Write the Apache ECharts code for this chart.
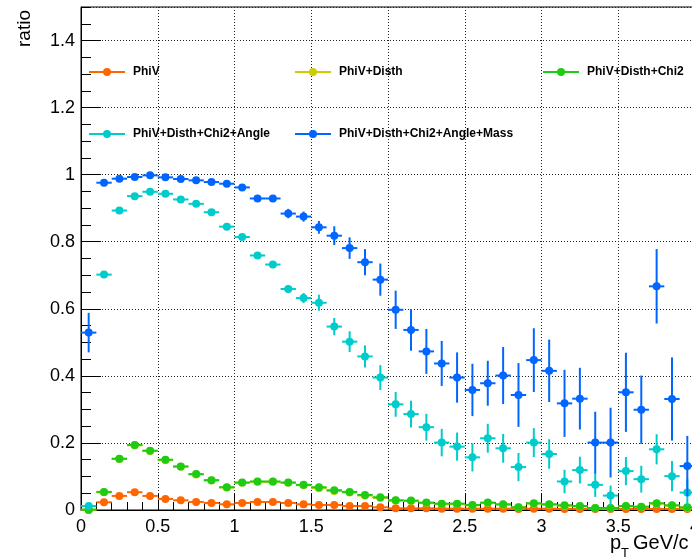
<!DOCTYPE html>
<html>
<head>
<meta charset="utf-8">
<script src="https://cdn.jsdelivr.net/npm/echarts@6/dist/echarts.min.js"></script>
<style>
  html, body { margin: 0; padding: 0; background: #fff; }
  #chart { width: 692px; height: 560px; }
</style>
</head>
<body>
<div id="chart"></div>
<script>
// pT bin centres (GeV/c), bins of width 0.1 from 0 to 4
const binCenters = [
  0.05, 0.15, 0.25, 0.35, 0.45, 0.55, 0.65, 0.75, 0.85, 0.95,
  1.05, 1.15, 1.25, 1.35, 1.45, 1.55, 1.65, 1.75, 1.85, 1.95,
  2.05, 2.15, 2.25, 2.35, 2.45, 2.55, 2.65, 2.75, 2.85, 2.95,
  3.05, 3.15, 3.25, 3.35, 3.45, 3.55, 3.65, 3.75, 3.85, 3.95
];
const binHalfWidth = 0.05;

const seriesNames = [
  'PhiV',
  'PhiV+Disth',
  'PhiV+Disth+Chi2',
  'PhiV+Disth+Chi2+Angle',
  'PhiV+Disth+Chi2+Angle+Mass'
];

// ratio per bin and its uncertainty, one pair of arrays per selection
const phiV = [
  0.000, 0.023, 0.042, 0.053, 0.042, 0.033, 0.029, 0.024, 0.021, 0.017,
  0.021, 0.024, 0.024, 0.021, 0.017, 0.015, 0.015, 0.012, 0.012, 0.008,
  0.005, 0.005, 0.005, 0.004, 0.004, 0.004, 0.004, 0.004, 0.003, 0.004,
  0.004, 0.003, 0.003, 0.003, 0.003, 0.003, 0.003, 0.003, 0.003, 0.003
];
const phiVErr = [
  0.002, 0.003, 0.003, 0.003, 0.003, 0.003, 0.003, 0.003, 0.003, 0.003,
  0.003, 0.003, 0.003, 0.003, 0.003, 0.003, 0.003, 0.003, 0.003, 0.003,
  0.003, 0.003, 0.003, 0.003, 0.003, 0.003, 0.003, 0.003, 0.003, 0.003,
  0.003, 0.003, 0.003, 0.003, 0.003, 0.003, 0.003, 0.003, 0.003, 0.003
];

const disth = [
  0.001, 0.053, 0.152, 0.193, 0.176, 0.149, 0.129, 0.106, 0.088, 0.067,
  0.081, 0.084, 0.084, 0.081, 0.074, 0.065, 0.057, 0.052, 0.043, 0.036,
  0.028, 0.027, 0.021, 0.018, 0.018, 0.014, 0.021, 0.016, 0.008, 0.019,
  0.016, 0.013, 0.011, 0.006, 0.005, 0.011, 0.009, 0.019, 0.013, 0.007
];
const disthErr = [
  0.002, 0.004, 0.005, 0.005, 0.005, 0.005, 0.005, 0.004, 0.004, 0.004,
  0.004, 0.004, 0.004, 0.004, 0.004, 0.004, 0.004, 0.004, 0.004, 0.004,
  0.004, 0.004, 0.004, 0.004, 0.004, 0.004, 0.004, 0.004, 0.004, 0.004,
  0.004, 0.004, 0.004, 0.004, 0.004, 0.004, 0.004, 0.004, 0.004, 0.004
];

const chi2 = [
  0.001, 0.054, 0.153, 0.194, 0.177, 0.150, 0.130, 0.107, 0.089, 0.068,
  0.082, 0.085, 0.085, 0.082, 0.075, 0.068, 0.059, 0.054, 0.045, 0.038,
  0.029, 0.028, 0.022, 0.019, 0.019, 0.015, 0.022, 0.017, 0.008, 0.020,
  0.017, 0.014, 0.012, 0.006, 0.006, 0.012, 0.010, 0.020, 0.014, 0.008
];
const chi2Err = [
  0.002, 0.004, 0.005, 0.005, 0.005, 0.005, 0.005, 0.004, 0.004, 0.004,
  0.004, 0.004, 0.004, 0.004, 0.004, 0.004, 0.004, 0.004, 0.004, 0.004,
  0.004, 0.004, 0.004, 0.004, 0.004, 0.004, 0.004, 0.004, 0.004, 0.004,
  0.004, 0.004, 0.004, 0.004, 0.004, 0.004, 0.004, 0.004, 0.004, 0.004
];

const angle = [
  0.012, 0.702, 0.893, 0.936, 0.949, 0.943, 0.926, 0.913, 0.888, 0.845,
  0.814, 0.759, 0.732, 0.659, 0.632, 0.618, 0.547, 0.502, 0.458, 0.395,
  0.315, 0.286, 0.247, 0.201, 0.189, 0.157, 0.214, 0.184, 0.128, 0.201,
  0.167, 0.085, 0.119, 0.075, 0.043, 0.116, 0.092, 0.181, 0.101, 0.052
];
const angleErr = [
  0.005, 0.004, 0.004, 0.004, 0.004, 0.004, 0.004, 0.004, 0.004, 0.005,
  0.006, 0.007, 0.008, 0.012, 0.015, 0.024, 0.026, 0.031, 0.033, 0.037,
  0.037, 0.040, 0.040, 0.041, 0.042, 0.042, 0.043, 0.043, 0.042, 0.043,
  0.044, 0.035, 0.040, 0.036, 0.030, 0.042, 0.040, 0.045, 0.045, 0.040
];

const mass = [
  0.529, 0.976, 0.988, 0.993, 0.998, 0.992, 0.987, 0.983, 0.978, 0.973,
  0.962, 0.929, 0.929, 0.884, 0.875, 0.843, 0.818, 0.781, 0.739, 0.687,
  0.597, 0.537, 0.473, 0.437, 0.395, 0.358, 0.378, 0.401, 0.343, 0.447,
  0.415, 0.318, 0.332, 0.201, 0.201, 0.351, 0.299, 0.667, 0.331, 0.131
];
const massErr = [
  0.059, 0.006, 0.004, 0.004, 0.004, 0.004, 0.004, 0.005, 0.005, 0.006,
  0.007, 0.009, 0.010, 0.014, 0.015, 0.019, 0.028, 0.032, 0.039, 0.048,
  0.057, 0.062, 0.067, 0.067, 0.075, 0.078, 0.067, 0.085, 0.095, 0.095,
  0.093, 0.100, 0.092, 0.092, 0.104, 0.118, 0.102, 0.111, 0.124, 0.090
];

const seriesValues = [phiV, disth, chi2, angle, mass];
const seriesErrors = [phiVErr, disthErr, chi2Err, angleErr, massErr];
const seriesColors = ['#ff6600', '#cccc00', '#1ecc14', '#00cccc', '#0066ff'];

const FONT = '"Liberation Sans", Arial, Helvetica, sans-serif';

const chart = echarts.init(document.getElementById('chart'), null, { renderer: 'canvas' });

const series = [];
seriesNames.forEach((name, k) => {
  const color = seriesColors[k];
  const vals = seriesValues[k];
  const errs = seriesErrors[k];
  // bin-width horizontal bars and vertical error bars
  series.push({
    type: 'custom',
    name: name + ' errors',
    xAxisIndex: 0,
    yAxisIndex: 0,
    silent: true,
    animation: false,
    z: 2 + 2 * k,
    data: binCenters.map((x, i) => [x, vals[i], errs[i]]),
    encode: { x: 0, y: 1 },
    renderItem: function (params, api) {
      const x = api.value(0), y = api.value(1), e = api.value(2);
      const pL = api.coord([x - binHalfWidth, y]);
      const pR = api.coord([x + binHalfWidth, y]);
      const pT = api.coord([x, y + e]);
      const pB = api.coord([x, y - e]);
      const style = { stroke: color, lineWidth: 2 };
      return {
        type: 'group',
        children: [
          { type: 'line', shape: { x1: pL[0], y1: pL[1], x2: pR[0], y2: pR[1] }, style: style },
          { type: 'line', shape: { x1: pT[0], y1: pT[1], x2: pB[0], y2: pB[1] }, style: style }
        ]
      };
    }
  });
  // markers
  series.push({
    type: 'line',
    name: name,
    xAxisIndex: 0,
    yAxisIndex: 0,
    silent: true,
    animation: false,
    z: 3 + 2 * k,
    symbol: 'circle',
    symbolSize: 8,
    showSymbol: true,
    showAllSymbol: true,
    clip: false,
    lineStyle: { opacity: 0, width: 2, color: color },
    itemStyle: { color: color },
    data: binCenters.map((x, i) => [x, vals[i]])
  });
});

const legendBase = {
  orient: 'horizontal',
  padding: 0,
  itemWidth: 36,
  itemHeight: 10,
  selectedMode: false,
  lineStyle: { width: 2, opacity: 1 },
  textStyle: { fontFamily: FONT, fontWeight: 'bold', fontSize: 12, color: '#000', padding: [0, 0, 0, 3] }
};
const legendSlots = [
  { left: 88, top: 66 },
  { left: 294, top: 66 },
  { left: 542, top: 66 },
  { left: 88, top: 128 },
  { left: 294, top: 128 }
];

const option = {
  backgroundColor: '#fff',
  animation: false,
  grid: {
    left: 81, top: 7, width: 614, height: 503,
    outerBoundsMode: 'none',
    containLabel: false,
    show: true, borderColor: '#000', borderWidth: 1, backgroundColor: 'transparent'
  },
  legend: seriesNames.map((name, k) => Object.assign({}, legendBase, legendSlots[k], { data: [name] })),
  xAxis: {
    type: 'value',
    min: 0, max: 4, interval: 0.5,
    axisLine: { lineStyle: { color: '#000', width: 1 } },
    axisTick: { inside: true, length: 16, lineStyle: { color: '#000', width: 1 } },
    minorTick: { show: true, splitNumber: 5, length: 8, lineStyle: { color: '#000', width: 1 } },
    splitLine: { show: true, lineStyle: { color: '#222', width: 1, type: [1, 2] } },
    axisLabel: { fontFamily: FONT, fontSize: 18, color: '#000', margin: 8, showMaxLabel: true }
  },
  yAxis: [
    {
      type: 'value',
      min: 0, max: 1.5, interval: 0.2,
      axisLine: { show: true, lineStyle: { color: '#000', width: 1 } },
      axisTick: { show: true, inside: true, length: 20, lineStyle: { color: '#000', width: 1 } },
      splitLine: { show: true, lineStyle: { color: '#222', width: 1, type: [1, 2] } },
      axisLabel: { fontFamily: FONT, fontSize: 18, color: '#000', margin: 6, showMaxLabel: false }
    },
    {
      // minor ticks every 0.05
      type: 'value',
      position: 'left',
      min: 0, max: 1.5, interval: 0.05,
      axisLine: { show: false },
      axisTick: { show: true, inside: true, length: 10, lineStyle: { color: '#000', width: 1 } },
      splitLine: { show: false },
      axisLabel: { show: false }
    }
  ],
  graphic: [
    {
      type: 'text', x: 25, y: 10, rotation: Math.PI / 2, z: 100,
      style: { text: 'ratio', font: '19px ' + FONT, fill: '#000', align: 'right', verticalAlign: 'middle' }
    },
    {
      type: 'text', x: 610, y: 543, z: 100,
      style: { text: 'p', font: '20px ' + FONT, fill: '#000', align: 'left', verticalAlign: 'middle' }
    },
    {
      type: 'text', x: 621, y: 553, z: 100,
      style: { text: 'T', font: '13px ' + FONT, fill: '#000', align: 'left', verticalAlign: 'middle' }
    },
    {
      type: 'text', x: 633, y: 543, z: 100,
      style: { text: 'GeV/c', font: '20px ' + FONT, fill: '#000', align: 'left', verticalAlign: 'middle' }
    }
  ],
  series: series
};

chart.setOption(option);
</script>
</body>
</html>
